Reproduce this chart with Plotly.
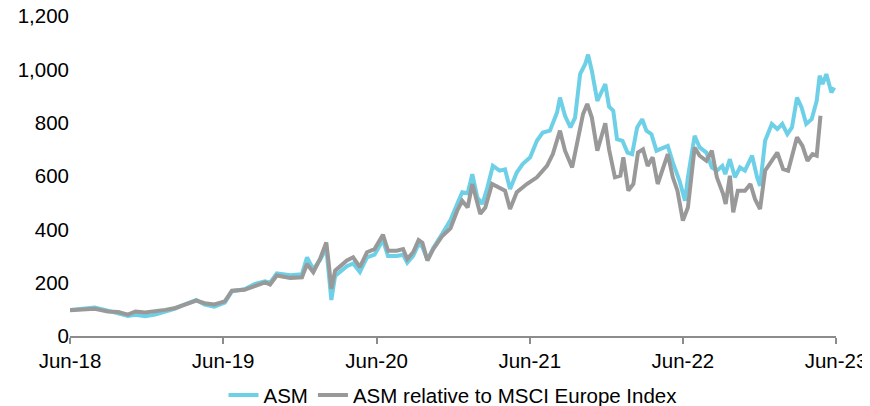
import plotly.graph_objects as go

# ASM share price (indexed)
asm_dates = [
    "2018-06-29", "2018-08-27", "2018-09-27", "2018-10-22", "2018-11-14", "2018-12-02", "2018-12-25",
    "2019-01-18", "2019-02-11", "2019-03-07", "2019-03-29", "2019-04-26", "2019-05-16", "2019-06-08",
    "2019-07-03", "2019-07-20", "2019-08-19", "2019-09-13", "2019-10-07", "2019-10-19", "2019-11-04",
    "2019-12-06", "2020-01-03", "2020-01-15", "2020-01-30", "2020-02-15", "2020-03-01", "2020-03-06",
    "2020-03-13", "2020-03-22", "2020-04-19", "2020-05-04", "2020-05-20", "2020-06-06", "2020-06-24",
    "2020-07-14", "2020-07-26", "2020-08-16", "2020-08-31", "2020-09-10", "2020-09-24", "2020-10-07",
    "2020-10-16", "2020-10-28", "2020-11-11", "2020-12-03", "2020-12-22", "2021-01-07", "2021-01-19",
    "2021-02-01", "2021-02-12", "2021-02-24", "2021-03-08", "2021-03-20", "2021-04-02", "2021-04-18",
    "2021-05-01", "2021-05-13", "2021-05-29", "2021-06-12", "2021-06-30", "2021-07-16", "2021-07-30",
    "2021-08-16", "2021-09-02", "2021-09-09", "2021-09-21", "2021-10-04", "2021-10-15", "2021-10-27",
    "2021-11-08", "2021-11-15", "2021-11-24", "2021-12-07", "2021-12-19", "2021-12-26", "2022-01-04",
    "2022-01-14", "2022-01-23", "2022-02-05", "2022-02-17", "2022-02-28", "2022-03-12", "2022-03-24",
    "2022-04-03", "2022-04-15", "2022-04-27", "2022-05-12", "2022-05-24", "2022-06-05", "2022-06-21",
    "2022-07-04", "2022-07-11", "2022-07-27", "2022-08-08", "2022-08-24", "2022-09-06", "2022-09-18",
    "2022-10-01", "2022-10-08", "2022-10-19", "2022-10-31", "2022-11-12", "2022-11-24", "2022-12-11",
    "2022-12-23", "2022-12-30", "2023-01-11", "2023-01-27", "2023-02-09", "2023-02-21", "2023-03-05",
    "2023-03-16", "2023-03-28", "2023-04-08", "2023-04-19", "2023-05-02", "2023-05-14", "2023-05-21",
    "2023-05-28", "2023-06-06", "2023-06-18", "2023-06-25",
]
asm_values = [
    97, 107, 95, 85, 75, 80, 74,
    80, 92, 103, 118, 135, 118, 110,
    125, 168, 175, 195, 205, 200, 235,
    228, 232, 295, 250, 285, 330, 260,
    135, 225, 262, 272, 240, 295, 305,
    360, 300, 300, 305, 275, 300, 345,
    335, 285, 330, 385, 435, 495, 539,
    535, 607, 520, 495, 557, 638, 620,
    625, 551, 613, 645, 670, 732, 763,
    770, 838, 894, 826, 782, 819, 982,
    1019, 1055, 994, 882, 919, 945, 860,
    845, 738, 732, 688, 682, 782, 813,
    770, 757, 695, 707, 713, 651, 582,
    507, 595, 751, 707, 688, 632, 620,
    638, 607, 663, 595, 632, 620, 676,
    595, 563, 732, 795, 776, 795, 757,
    782, 894, 857, 795, 813, 882, 976,
    945, 982, 913, 932,
]

# ASM relative to MSCI Europe Index (indexed)
rel_dates = [
    "2018-06-29", "2018-08-27", "2018-09-27", "2018-10-22", "2018-11-14", "2018-12-02", "2018-12-25",
    "2019-01-18", "2019-02-11", "2019-03-07", "2019-03-29", "2019-04-26", "2019-05-16", "2019-06-08",
    "2019-07-03", "2019-07-20", "2019-08-19", "2019-09-13", "2019-10-07", "2019-10-19", "2019-11-04",
    "2019-12-06", "2020-01-03", "2020-01-15", "2020-01-30", "2020-02-15", "2020-03-01", "2020-03-06",
    "2020-03-13", "2020-03-22", "2020-04-19", "2020-05-04", "2020-05-20", "2020-06-06", "2020-06-24",
    "2020-07-14", "2020-07-26", "2020-08-16", "2020-08-31", "2020-09-10", "2020-09-24", "2020-10-07",
    "2020-10-16", "2020-10-28", "2020-11-11", "2020-12-03", "2020-12-22", "2021-01-07", "2021-01-19",
    "2021-02-01", "2021-02-12", "2021-03-03", "2021-03-15", "2021-03-31", "2021-04-14", "2021-05-01",
    "2021-05-13", "2021-05-29", "2021-06-22", "2021-07-16", "2021-08-09", "2021-08-23", "2021-09-09",
    "2021-09-21", "2021-10-08", "2021-10-22", "2021-11-03", "2021-11-13", "2021-11-24", "2021-12-07",
    "2021-12-26", "2022-01-04", "2022-01-18", "2022-01-31", "2022-02-07", "2022-02-19", "2022-03-03",
    "2022-03-14", "2022-03-26", "2022-04-06", "2022-04-18", "2022-04-30", "2022-05-12", "2022-05-24",
    "2022-06-05", "2022-06-16", "2022-06-29", "2022-07-11", "2022-07-27", "2022-08-08", "2022-08-24",
    "2022-09-06", "2022-09-18", "2022-10-03", "2022-10-09", "2022-10-19", "2022-10-27", "2022-11-07",
    "2022-11-24", "2022-12-07", "2022-12-18", "2022-12-30", "2023-01-11", "2023-01-27", "2023-02-09",
    "2023-02-23", "2023-03-07", "2023-03-28", "2023-04-10", "2023-04-22", "2023-05-04", "2023-05-14",
    "2023-05-19", "2023-05-23",
]
rel_values = [
    97, 102, 92, 90, 80, 92, 88,
    92, 98, 105, 118, 133, 123, 118,
    130, 170, 173, 189, 201, 193, 227,
    218, 220, 270, 239, 289, 351, 283,
    177, 245, 283, 295, 258, 314, 326,
    380, 320, 320, 326, 289, 314, 360,
    350, 283, 326, 376, 404, 470, 507,
    482, 570, 458, 482, 570, 557, 545,
    476, 539, 570, 595, 638, 682, 770,
    695, 632, 732, 832, 870, 819, 695,
    798, 700, 595, 601, 670, 545, 570,
    688, 700, 638, 670, 570, 626, 682,
    595, 545, 433, 482, 707, 676, 657,
    695, 595, 532, 495, 601, 464, 545,
    545, 570, 513, 476, 620, 657, 688,
    626, 620, 745, 713, 657, 682, 676,
    757, 826,
]

tick_dates = ["2018-06-29", "2019-06-29", "2020-06-29", "2021-06-29", "2022-06-29", "2023-06-29"]
tick_labels = ["Jun-18", "Jun-19", "Jun-20", "Jun-21", "Jun-22", "Jun-23"]
y_ticks = [0, 200, 400, 600, 800, 1000, 1200]

FONT = "Liberation Sans, Arial, sans-serif"

fig = go.Figure()
fig.add_trace(go.Scatter(x=asm_dates, y=asm_values, mode="lines", name="ASM",
                         line=dict(color="#6dd0e6", width=4)))
fig.add_trace(go.Scatter(x=rel_dates, y=rel_values, mode="lines",
                         name="ASM relative to MSCI Europe Index",
                         line=dict(color="#999999", width=4)))

# the page body adds an 8px offset, so the figure is 862x398
fig.update_layout(
    width=862, height=398,
    margin=dict(l=62, r=34, t=8, b=70, autoexpand=False),
    paper_bgcolor="white", plot_bgcolor="white",
    font=dict(family=FONT, size=20.5, color="#000000"),
    showlegend=True,
    legend=dict(orientation="h", x=0.5, xanchor="center", y=-0.185, yanchor="middle",
                font=dict(size=20.5), itemwidth=30, tracegroupgap=0),
)
fig.update_xaxes(
    type="date", range=["2018-06-29", "2023-06-29"],
    tickvals=tick_dates, ticktext=tick_labels,
    showgrid=False, zeroline=False,
    showline=True, linecolor="#8c8c8c", linewidth=1.5,
    ticks="outside", ticklen=6, tickwidth=1.5, tickcolor="#8c8c8c",
    ticklabeloverflow="allow",
)
fig.update_yaxes(
    range=[0, 1200], tickvals=y_ticks, tickformat=",",
    showgrid=False, zeroline=False, showline=False,
    ticks="", ticklabeloverflow="allow",
)

fig.write_html("out.html")
